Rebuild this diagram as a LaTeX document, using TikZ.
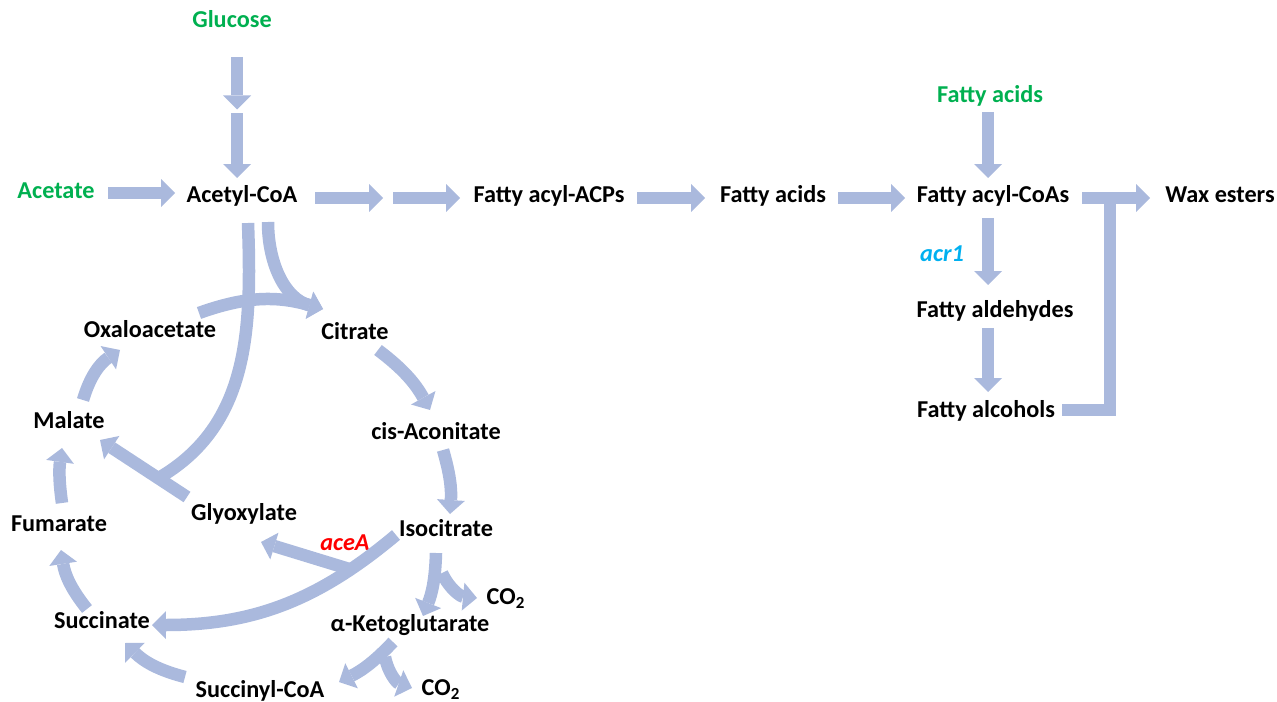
\documentclass[tikz,border=0pt]{standalone}
\usepackage{fontspec}
\setmainfont{Carlito}
\usetikzlibrary{calc}
\usetikzlibrary{arrows.meta}
\definecolor{fluxblue}{RGB}{170,185,221}
\definecolor{srcgreen}{RGB}{0,176,80}
\definecolor{genered}{RGB}{255,0,0}
\definecolor{geneblue}{RGB}{0,176,240}
\tikzset{%
  myflux/.style={draw=fluxblue, line width=0.25cm, -{Triangle[width=0.56cm, length=0.28cm, line width=0pt]}},
  myline/.style={draw=fluxblue, line width=0.25cm},
  mynode/.style={inner sep=0pt, text height=8.9pt, text depth=0pt, font=\bfseries\fontsize{13.8}{16}\selectfont},
  mysource/.style={mynode, text=srcgreen},
  mygene/.style={mynode, font=\bfseries\itshape\fontsize{13.8}{16}\selectfont}
}

\begin{document}
\begin{tikzpicture}[x=0.02cm, y=0.02cm]
\useasboundingbox (0,0) rectangle (1277,-702);

\node [mysource] (glucose) at (232,-20) {Glucose};
\node [mysource] (acetate) at (56,-191) {Acetate};
\node [mynode] (acetylcoa) at (242,-195) {Acetyl-CoA};
\node [mynode] (acylacp) at (549,-195) {Fatty acyl-ACPs};
\node [mynode] (fattyacids) at (773,-195) {Fatty acids};
\node [mysource] (extacids) at (990,-95) {Fatty acids};
\node [mynode] (acylcoas) at (993,-195) {Fatty acyl-CoAs};
\node [mynode] (wax) at (1220,-195) {Wax esters};
\node [mygene, text=geneblue] (acr) at (942,-254) {acr1};
\node [mynode] (aldehydes) at (995,-310) {Fatty aldehydes};
\node [mynode] (alcohols) at (986,-410) {Fatty alcohols};

\node [mynode] (oxalo) at (150,-330) {Oxaloacetate};
\node [mynode] (citrate) at (355,-332) {Citrate};
\node [mynode] (aconitate) at (436,-432) {cis-Aconitate};
\node [mynode] (isocitrate) at (446,-529) {Isocitrate};
\node [mynode] (akg) at (410,-624) {α-Ketoglutarate};
\node [mynode] (succcoa) at (260,-690) {Succinyl-CoA};
\node [mynode] (succinate) at (102,-621) {Succinate};
\node [mynode] (fumarate) at (59,-524) {Fumarate};
\node [mynode] (malate) at (69,-421) {Malate};
\node [mynode] (glyoxylate) at (244,-513) {Glyoxylate};
\node [mygene, text=genered] (acea) at (345,-543) {aceA};
\node [mynode] (co2top) at (506,-597) {CO\textsubscript{2}};
\node [mynode] (co2bot) at (441,-688) {CO\textsubscript{2}};

% fatty acid / wax ester route
\coordinate (gmid) at ($(glucose)!0.5!(acetylcoa)$);
\draw [myflux] ($(glucose)+(5,-37)$) -- ($(gmid)+(0,-2)$);
\draw [myflux] ($(gmid)+(0,-6)$) -- ($(acetylcoa)+(-5,17)$);
\draw [myflux] ($(acetate)+(52,-2)$) -- ($(acetylcoa)+(-67,2)$);
\draw [myflux] ($(acetylcoa)+(73,-3)$) -- ($(acetylcoa)+(141,-3)$);
\draw [myflux] ($(acylacp)+(-156,-3)$) -- ($(acylacp)+(-89,-3)$);
\draw [myflux] ($(acylacp)+(88,-3)$) -- ($(fattyacids)+(-68,-3)$);
\draw [myflux] ($(fattyacids)+(65,-3)$) -- ($(acylcoas)+(-88,-3)$);
\draw [myflux] ($(extacids)+(-2,-17)$) -- ($(acylcoas)+(-5,17)$);
\draw [myflux] ($(acylcoas)+(89,-3)$) -- ($(wax)+(-70,-3)$);
\draw [myflux] ($(acylcoas)+(-5,-23)$) -- ($(aldehydes)+(-7,25)$);
\draw [myflux] ($(aldehydes)+(-7,-18)$) -- ($(alcohols)+(2,18)$);
\draw [myline, line join=miter] ($(alcohols)+(76,0)$) -| ($(acylcoas)+(117,-3)$);

% TCA cycle and glyoxylate shunt
\draw [myflux] ($(glyoxylate)+(-57,16)$) -- coordinate[pos=0.33] (gjoin) ($(malate)+(31,-19)$);
\draw [myline] ($(acetylcoa)+(6,-28)$) to[out=-88, in=30] (gjoin);
\draw [myflux] ($(isocitrate)+(-50,-6)$) to[out=-140, in=0] coordinate[pos=0.2] (split) ($(succinate)+(50,-4)$);
\draw [myflux] (split) -- ($(glyoxylate)+(17,-29)$);

\draw [myflux] ($(malate)+(14,21)$) to[bend left=20] ($(oxalo)+(-30,-20)$);
\draw [myflux] ($(fumarate)+(3,21)$) to[bend left=8] ($(malate)+(-7,-27)$);
\draw [myflux] ($(succinate)+(-15,12)$) to[bend left=15] ($(fumarate)+(2,-26)$);
\draw [myflux] ($(succcoa)+(-75,13)$) to[bend left=15] ($(succinate)+(23,-22)$);
\draw [myflux] ($(akg)+(-17,-18)$) to[bend left=10] ($(succcoa)+(79,8)$);
\draw [myflux] ($(akg)+(-25,-33)$) to[bend right=30] ($(co2bot)+(-29,0)$);
\draw [myflux] ($(isocitrate)+(-10,-24)$) to[bend left=10] ($(akg)+(13,8)$);
\draw [myflux] ($(isocitrate)+(-4,-44)$) to[bend right=30] ($(co2top)+(-29,-1)$);
\draw [myflux] ($(aconitate)+(7,-18)$) to[bend left=10] ($(isocitrate)+(4,15)$);
\draw [myflux] ($(citrate)+(23,-18)$) to[bend left=12] ($(aconitate)+(-6,22)$);
\draw [myflux] ($(oxalo)+(49,17)$) to[bend left=18] ($(citrate)+(-32,23)$);
\draw [myflux] ($(acetylcoa)+(26,-27)$) to[out=-90, in=165] ($(citrate)+(-32,23)$);
\end{tikzpicture}
\end{document}
